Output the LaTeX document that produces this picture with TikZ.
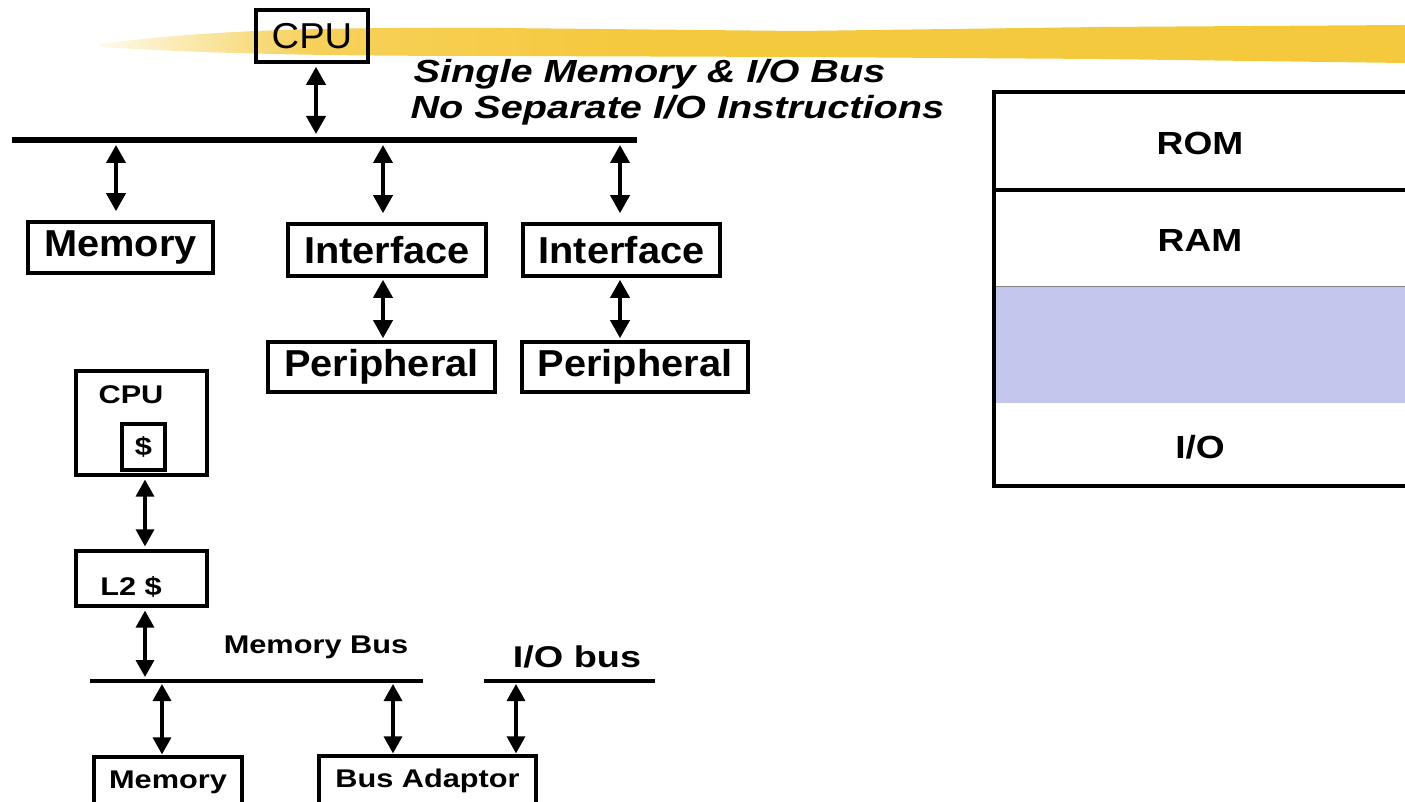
\documentclass[tikz,border=0pt]{standalone}
\usepackage{fontspec}
\setmainfont{Liberation Sans}[FakeStretch=1.06]
\newfontfamily\widefont{Liberation Sans}[FakeStretch=1.2]
\newfontfamily\iofont{Liberation Sans}[FakeStretch=1.26]
\newfontfamily\titlefont{Liberation Sans}[FakeStretch=1.24]
\newfontfamily\cellfont{Liberation Sans}[FakeStretch=1.16]
\usetikzlibrary{arrows.meta}
\definecolor{brush}{RGB}{245,201,62}
\definecolor{holeblue}{RGB}{196,198,238}
\pgfdeclarehorizontalshading{brushfade}{100bp}{color(0bp)=(brush!10); color(25bp)=(brush!10); color(33bp)=(brush!85); color(45bp)=(brush); color(100bp)=(brush)}
\newcommand{\fs}[1]{\fontsize{#1}{#1}\selectfont}
\begin{document}
\begin{tikzpicture}[x=1pt,y=-1pt,
  box/.style={draw=black, line width=3.6pt, inner sep=0pt, align=center},
  bigtxt/.style={font=\bfseries\fs{37.5}},
  smalltxt/.style={font=\widefont\bfseries\fs{25.6}},
  dbl/.style={line width=3.8pt, {Triangle[width=19pt,length=18pt]}-{Triangle[width=19pt,length=18pt]}},
  dbls/.style={line width=3.4pt, {Triangle[width=18pt,length=17pt]}-{Triangle[width=18pt,length=17pt]}},
  bus/.style={line width=5.5pt},
  thinbus/.style={line width=3.6pt},
  cell/.style={font=\cellfont\bfseries\fs{32}}]
\useasboundingbox (0,0) rectangle (1405,802);
\clip (0,0) rectangle (1405,802);

% yellow brush stroke behind the title
\shade[shading=brushfade] (100,44) .. controls (200,31) and (300,27) .. (500,28)
  -- (800,31) -- (1100,27) -- (1405,25) -- (1405,63) -- (1100,59) -- (800,57)
  -- (500,56) .. controls (300,56) and (200,53) .. (100,47) -- cycle;

% ---------- single memory & I/O bus ----------
\node[box, minimum width=112pt, minimum height=52pt, font=\fs{36}] (cpuA) at (312,36) {CPU};
\node[anchor=base west, font=\titlefont\bfseries\itshape\fs{32}] (t1) at (410,83) {Single Memory \& I/O Bus};
\node[anchor=base west, font=\titlefont\bfseries\itshape\fs{32}] (t2) at (407,119) {No Separate I/O Instructions};

\coordinate (busL) at (12,140);
\coordinate (busR) at (637,140);
\draw[bus] (busL) -- (busR);
\coordinate (tapC) at (316,140);
\coordinate (tapM) at (116,140);
\coordinate (tapI) at (383,140);
\coordinate (tapJ) at (620,140);

\node[box, bigtxt, minimum width=185pt, minimum height=51pt] (memA) at (120.5,247.5) {Memory};
\node[box, bigtxt, minimum width=198pt, minimum height=52pt] (ifA) at (387,250) {Interface};
\node[box, bigtxt, minimum width=197pt, minimum height=52pt] (ifB) at (621.5,250) {Interface};
\node[box, bigtxt, minimum width=227pt, minimum height=50pt] (perA) at (381.5,367) {Peripheral};
\node[box, bigtxt, minimum width=226pt, minimum height=50pt] (perB) at (635,367) {Peripheral};

\draw[dbl, shorten <=3pt, shorten >=6pt] (cpuA.south -| tapC) -- (tapC);
\draw[dbl, shorten <=5pt, shorten >=9pt] (tapM) -- (tapM |- memA.north);
\draw[dbl, shorten <=5pt, shorten >=9pt] (tapI) -- (tapI |- ifA.north);
\draw[dbl, shorten <=5pt, shorten >=9pt] (tapJ) -- (tapJ |- ifB.north);
\draw[dbl, shorten <=2pt, shorten >=2pt] (ifA.south -| tapI) -- (tapI |- perA.north);
\draw[dbl, shorten <=2pt, shorten >=2pt] (ifB.south -| tapJ) -- (tapJ |- perB.north);

% ---------- memory bus + I/O bus ----------
\node[box, minimum width=131pt, minimum height=104pt, line width=3.2pt] (cpuB) at (141.5,423) {};
\node[smalltxt] (cpuBt) at (131,395) {CPU};
\node[box, smalltxt, minimum width=43pt, minimum height=46pt, line width=3.2pt] (cache) at (143.5,447) {\$};
\node[box, minimum width=131pt, minimum height=55pt, line width=3.2pt] (l2) at (141.5,578.5) {};
\node[smalltxt] (l2t) at (131,587) {L2 \$};

\coordinate (mbL) at (90,681);
\coordinate (mbR) at (423,681);
\coordinate (ibL) at (484,681);
\coordinate (ibR) at (655,681);
\draw[thinbus] (mbL) -- (mbR);
\draw[thinbus] (ibL) -- (ibR);
\node[smalltxt] (mbt) at (316,647) {Memory Bus};
\node[font=\iofont\bfseries\fs{30}] (ibt) at (577,657) {I/O bus};

\coordinate (tapL2) at (145,681);
\coordinate (tapMB) at (162,681);
\coordinate (tapBA) at (393,681);
\coordinate (tapIO) at (516,681);

\node[box, smalltxt, minimum width=148pt, minimum height=50pt, line width=3.2pt] (memB) at (168,782) {Memory};
\node[box, smalltxt, minimum width=217pt, minimum height=50pt, line width=3.2pt] (busad) at (427.5,781) {Bus Adaptor};

\draw[dbls, shorten <=3pt, shorten >=3pt] (cpuB.south -| tapL2) -- (tapL2 |- l2.north);
\draw[dbls, shorten <=3pt, shorten >=4pt] (l2.south -| tapL2) -- (tapL2);
\draw[dbls, shorten <=3pt, shorten >=1pt] (tapMB) -- (tapMB |- memB.north);
\draw[dbls, shorten <=3pt, shorten >=1pt] (tapBA) -- (tapBA |- busad.north);
\draw[dbls, shorten <=3pt, shorten >=1pt] (tapIO) -- (tapIO |- busad.north);

% ---------- address map ----------
\fill[holeblue] (994,287) rectangle (1420,403);
\draw[gray, line width=1pt] (994,287) -- (1420,287);
\draw[line width=3.4pt] (1420,92) -- (994,92) -- (994,486) -- (1420,486);
\draw[line width=3.4pt] (994,190) -- (1420,190);
\node[cell] (rom) at (1200,143) {ROM};
\node[cell] (ram) at (1200,240) {RAM};
\node[cell] (io) at (1200,447) {I/O};
\end{tikzpicture}
\end{document}
